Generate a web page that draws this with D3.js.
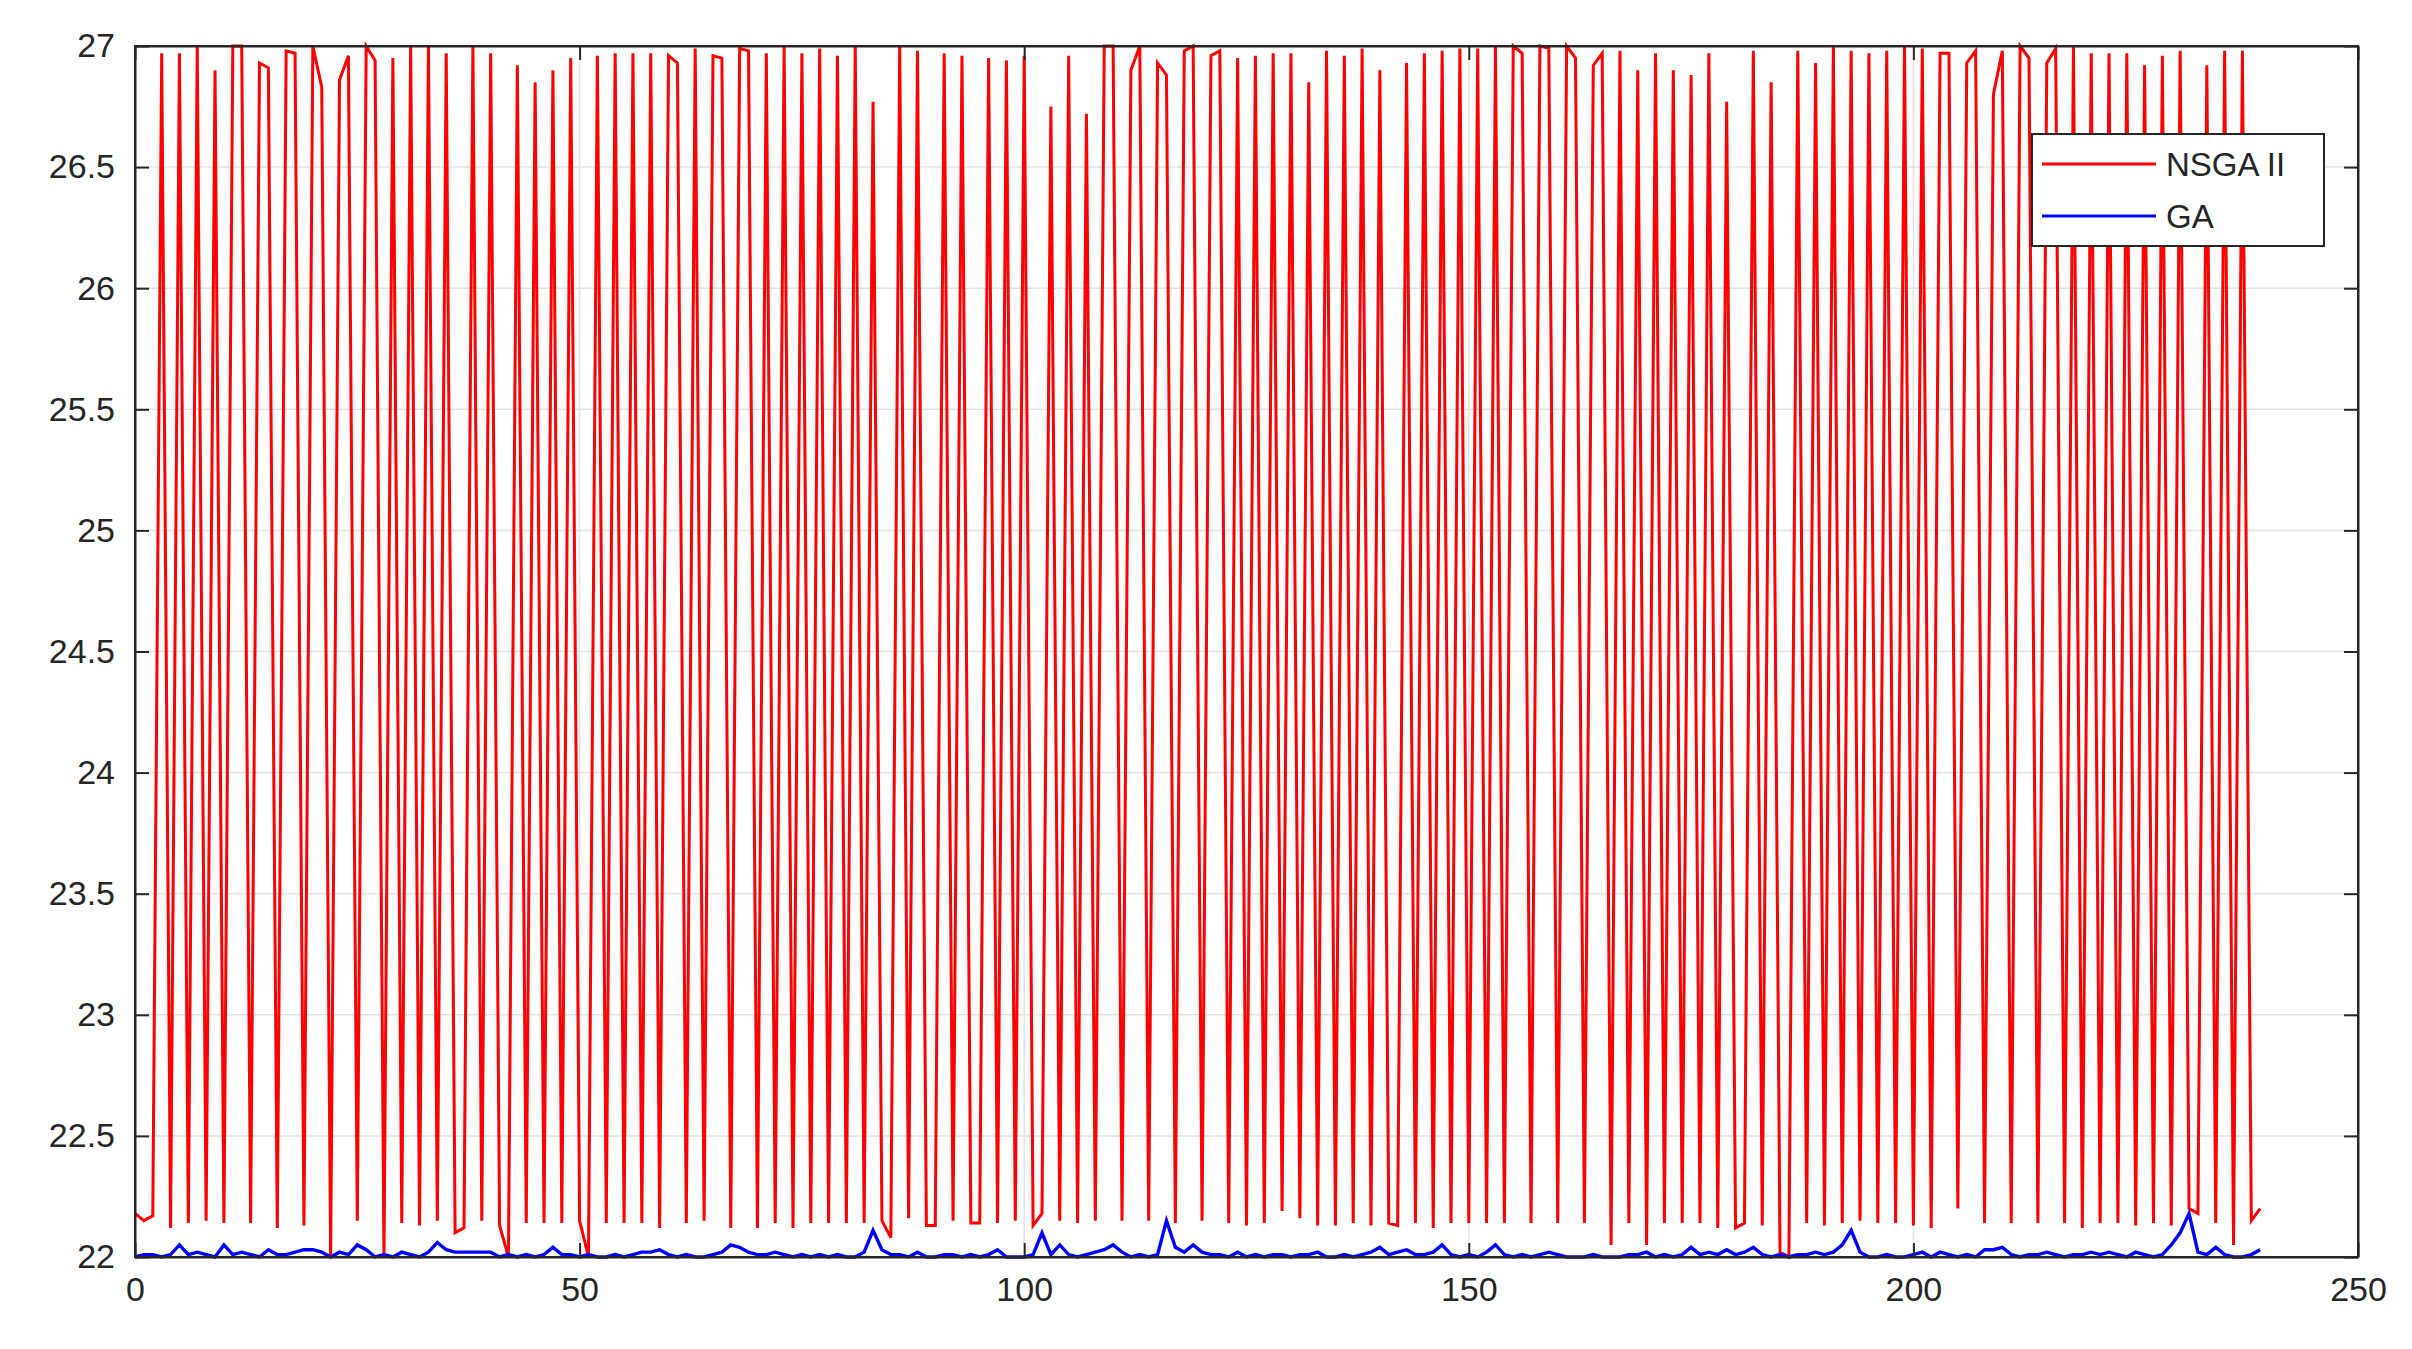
<!DOCTYPE html>
<html>
<head>
<meta charset="utf-8">
<script src="https://cdn.jsdelivr.net/npm/d3@7"></script>
<style>
  body { margin: 0; background: #fff; }
  text { font-family: "Liberation Sans", Arial, sans-serif; }
</style>
</head>
<body>
<svg width="2412" height="1349"></svg>
<script>
// NSGA II values, one per iteration
const nsga = [
  22.18,22.15,22.17,26.97,22.12,26.97,22.14,27.00,22.15,26.90,
  22.14,27.00,27.00,22.14,26.93,26.91,22.12,26.98,26.97,22.13,
  27.00,26.83,22.00,26.86,26.96,22.15,27.00,26.94,22.00,26.95,
  22.14,27.00,22.13,27.00,22.15,26.97,22.10,22.12,27.00,22.15,
  26.97,22.13,22.00,26.92,22.14,26.85,22.14,26.90,22.14,26.95,
  22.15,22.00,26.96,22.14,26.97,22.14,26.97,22.14,26.97,22.12,
  26.96,26.93,22.14,26.99,22.15,
  26.96,26.95,22.12,26.99,26.98,22.12,26.97,22.14,27.00,22.12,
  26.97,22.14,26.99,22.14,26.96,22.14,27.00,22.14,26.77,22.15,
  22.08,27.00,22.16,26.98,22.13,22.13,26.97,22.15,26.96,22.14,
  22.14,26.95,22.14,26.94,22.15,26.96,22.13,22.18,26.75,22.15,
  26.96,22.14,26.72,22.15,27.00,27.00,22.15,26.90,27.00,22.15,
  26.93,26.88,22.14,26.98,27.00,22.15,26.96,26.98,22.14,26.95,
  22.13,26.96,22.14,26.97,
  22.19,26.97,22.16,26.85,22.13,26.98,22.13,26.96,22.14,26.99,
  22.13,26.90,22.14,22.13,26.93,22.14,26.97,22.12,26.98,22.14,
  26.99,22.14,26.99,22.14,27.00,22.14,27.00,26.97,22.14,27.00,
  26.99,22.14,27.00,26.95,22.14,26.92,26.97,22.05,26.98,22.14,
  26.90,22.05,26.97,22.14,26.90,22.14,26.88,22.14,26.97,22.12,
  26.77,22.12,22.14,26.98,22.13,26.85,22.02,22.00,26.98,22.14,
  26.93,22.13,27.00,22.14,
  26.98,22.15,26.97,22.14,26.98,22.14,27.00,22.13,26.99,22.12,
  26.97,26.97,22.20,26.93,26.98,22.14,26.80,26.98,22.14,27.00,
  26.95,22.14,26.93,26.99,22.14,27.00,22.12,26.97,22.14,26.97,
  22.14,26.97,22.13,26.92,22.14,26.96,22.13,26.98,22.20,22.18,
  26.92,22.14,26.98,22.05,26.98,22.15,22.20
];

// GA values
const ga = [
  22.00,22.01,22.01,22.00,22.01,22.05,22.01,22.02,22.01,22.00,
  22.05,22.01,22.02,22.01,22.00,22.03,22.01,22.01,22.02,22.03,
  22.03,22.02,22.00,22.02,22.01,22.05,22.03,22.00,22.01,22.00,
  22.02,22.01,22.00,22.02,22.06,22.03,22.02,22.02,22.02,22.02,
  22.02,22.00,22.01,22.00,22.01,22.00,22.01,22.04,22.01,22.01,
  22.00,22.01,22.00,22.00,22.01,22.00,22.01,22.02,22.02,22.03,
  22.01,22.00,22.01,22.00,22.00,22.01,22.02,22.05,22.04,22.02,
  22.01,22.01,22.02,22.01,22.00,22.01,22.00,22.01,22.00,22.01,
  22.00,22.00,22.02,22.11,22.03,22.01,22.01,22.00,22.02,22.00,
  22.00,22.01,22.01,22.00,22.01,22.00,22.01,22.03,22.00,22.00,
  22.00,22.01,22.10,22.01,22.05,22.01,22.00,22.01,22.02,22.03,
  22.05,22.02,22.00,22.01,22.00,22.01,22.15,22.04,22.02,22.05,
  22.02,22.01,22.01,22.00,22.02,22.00,22.01,22.00,22.01,22.01,
  22.00,22.01,22.01,22.02,22.00,22.00,22.01,22.00,22.01,22.02,
  22.04,22.01,22.02,22.03,22.01,22.01,22.02,22.05,22.01,22.00,
  22.01,22.00,22.02,22.05,22.01,22.00,22.01,22.00,22.01,22.02,
  22.01,22.00,22.00,22.00,22.01,22.00,22.00,22.00,22.01,22.01,
  22.02,22.00,22.01,22.00,22.01,22.04,22.01,22.02,22.01,22.03,
  22.01,22.02,22.04,22.01,22.00,22.01,22.00,22.01,22.01,22.02,
  22.01,22.02,22.05,22.11,22.02,22.00,22.00,22.01,22.00,22.00,
  22.01,22.02,22.00,22.02,22.01,22.00,22.01,22.00,22.03,22.03,
  22.04,22.01,22.00,22.01,22.01,22.02,22.01,22.00,22.01,22.01,
  22.02,22.01,22.02,22.01,22.00,22.02,22.01,22.00,22.01,22.05,
  22.10,22.18,22.02,22.01,22.04,22.01,22.00,22.00,22.01,22.03
];

const xTicks = [0, 50, 100, 150, 200, 250];
const yTicks = [22, 22.5, 23, 23.5, 24, 24.5, 25, 25.5, 26, 26.5, 27];
const seriesNames = ["NSGA II", "GA"];
const seriesColors = ["#ff0000", "#0000ff"];

const svg = d3.select("svg");
const plotL = 135, plotR = 2358, plotT = 46, plotB = 1257;

const x = d3.scaleLinear().domain([0, 250]).range([plotL, plotR]);
const y = d3.scaleLinear().domain([22, 27]).range([plotB, plotT]);

// grid
svg.append("g").selectAll("line").data(yTicks.slice(1, -1)).enter().append("line")
  .attr("x1", plotL).attr("x2", plotR)
  .attr("y1", d => y(d)).attr("y2", d => y(d))
  .attr("stroke", "#e3e3e3").attr("stroke-width", 1.5);
svg.append("g").selectAll("line").data(xTicks.slice(1, -1)).enter().append("line")
  .attr("y1", plotT).attr("y2", plotB)
  .attr("x1", d => x(d)).attr("x2", d => x(d))
  .attr("stroke", "#e3e3e3").attr("stroke-width", 1.5);

// series
const line = d3.line().x((d, i) => x(i)).y(d => y(d));
svg.append("path").datum(nsga).attr("d", line)
  .attr("fill", "none").attr("stroke", seriesColors[0]).attr("stroke-width", 3);
svg.append("path").datum(ga).attr("d", line)
  .attr("fill", "none").attr("stroke", seriesColors[1]).attr("stroke-width", 3.4);

// axes, ticks inward on all four sides
const fmt = d => String(d);
svg.append("g").attr("transform", `translate(0,${plotB})`)
  .call(d3.axisBottom(x).tickValues(xTicks).tickFormat(fmt).tickSizeInner(-14).tickSizeOuter(0).tickPadding(20));
svg.append("g").attr("transform", `translate(0,${plotT})`)
  .call(d3.axisTop(x).tickValues(xTicks).tickFormat("").tickSizeInner(-14).tickSizeOuter(0));
svg.append("g").attr("transform", `translate(${plotL},0)`)
  .call(d3.axisLeft(y).tickValues(yTicks).tickFormat(fmt).tickSizeInner(-14).tickSizeOuter(0).tickPadding(20));
svg.append("g").attr("transform", `translate(${plotR},0)`)
  .call(d3.axisRight(y).tickValues(yTicks).tickFormat("").tickSizeInner(-14).tickSizeOuter(0));

svg.selectAll(".domain").attr("stroke", "#262626").attr("stroke-width", 2);
svg.selectAll(".tick line").attr("stroke", "#262626").attr("stroke-width", 2);
svg.selectAll(".tick text").attr("font-size", 34).attr("fill", "#262626")
  .attr("font-family", "Liberation Sans, Arial, sans-serif");
svg.append("rect").attr("x", plotL).attr("y", plotT)
  .attr("width", plotR - plotL).attr("height", plotB - plotT)
  .attr("fill", "none").attr("stroke", "#262626").attr("stroke-width", 2);

// legend
const lg = svg.append("g").attr("transform", "translate(2032,134)");
lg.append("rect").attr("width", 292).attr("height", 112)
  .attr("fill", "#fff").attr("stroke", "#262626").attr("stroke-width", 2);
seriesNames.forEach((name, i) => {
  const yy = 30 + i * 52;
  lg.append("line").attr("x1", 10).attr("x2", 124).attr("y1", yy).attr("y2", yy)
    .attr("stroke", seriesColors[i]).attr("stroke-width", 3);
  lg.append("text").attr("x", 134).attr("y", yy + 12).text(name)
    .attr("font-size", 33).attr("fill", "#262626");
});
</script>
</body>
</html>
